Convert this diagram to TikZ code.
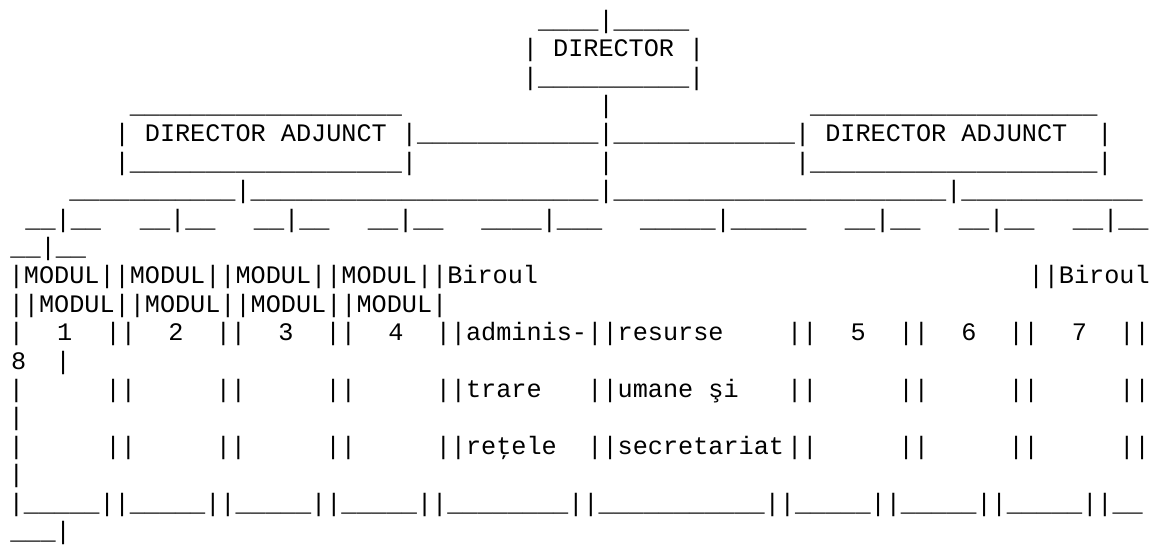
\documentclass[tikz,border=0pt]{standalone}
\usepackage{fontspec}
\setmonofont{Liberation Mono}
\usepackage{tikz}
\newcommand{\usc}[1]{\foreach \k in {1,...,#1}{\_}}
\tikzset{ascii/.style={font=\ttfamily\fontsize{25.2pt}{28.4pt}\selectfont,
    anchor=base west, inner sep=0pt, outer sep=0pt}}
\begin{document}
\begin{tikzpicture}[x=15.12pt, y=-28.4pt]
        \useasboundingbox (-0.582,-0.9965) rectangle (75.54,18.158);
        % Director
        \node[ascii] (dirtop) at (35,0) {\usc{4}|\usc{5}};
        \node[ascii] (dir) at (34,1) {| DIRECTOR |};
        \node[ascii] (dirbot) at (34,2) {|\usc{10}|};
        % Adjuncts
        \node[ascii] (adjLtop) at (8,3) {\usc{18}};
        \node[ascii] (dirstem) at (39,3) {|};
        \node[ascii] (adjRtop) at (53,3) {\usc{19}};
        \node[ascii] (adjL) at (7,4) {| DIRECTOR ADJUNCT |};
        \node[ascii] (link) at (27,4) {\usc{12}|\usc{12}};
        \node[ascii] (adjR) at (52,4) {| DIRECTOR ADJUNCT~~|};
        \node[ascii] (adjLbot) at (7,5) {|\usc{18}|};
        \node[ascii] (midstem) at (39,5) {|};
        \node[ascii] (adjRbot) at (52,5) {|\usc{19}|};
        % Branches
        \node[ascii] (bus) at (4,6) {\usc{11}|\usc{23}|\usc{22}|\usc{12}};
        \node[ascii] (br1) at (1.10,7) {\_\_|\_\_};
        \node[ascii] (br2) at (8.67,7) {\_\_|\_\_};
        \node[ascii] (br3) at (16.21,7) {\_\_|\_\_};
        \node[ascii] (br4) at (23.75,7) {\_\_|\_\_};
        \node[ascii] (br5) at (31.25,7) {\usc{4}|\usc{3}};
        \node[ascii] (br6) at (41.75,7) {\usc{5}|\usc{5}};
        \node[ascii] (br7) at (55.3,7) {\_\_|\_\_};
        \node[ascii] (br8) at (62.84,7) {\_\_|\_\_};
        \node[ascii] (br9) at (70.38,7) {\_\_|\_\_};
        \node[ascii] (br10) at (0.11,8) {\_\_|\_\_};
        % Boxes
        \node[ascii] (mod) at (0,9) {|MODUL||MODUL||MODUL||MODUL||Biroul};
        \node[ascii] (birR) at (67.45,9) {||Biroul};
        \node[ascii] (modw) at (0,10) {||MODUL||MODUL||MODUL||MODUL|};
        \foreach \r in {11,13,15,14,16}
          \node[ascii] (left\r) at (0,\r) {|};
        \foreach \r in {11,13,15}
          \foreach \x [count=\i] in {6.41,13.69,20.96,51.48,58.85,66.12,73.45}
            \node[ascii] (sep\r-\i) at (\x,\r) {||};
        \node[ascii] (n1) at (3.2,11) {1};
        \node[ascii] (n2) at (10.55,11) {2};
        \node[ascii] (n3) at (17.82,11) {3};
        \node[ascii] (n4) at (25.1,11) {4};
        \node[ascii] (adm1) at (28.24,11) {||adminis-};
        \node[ascii] (res1) at (38.27,11) {||resurse};
        \node[ascii] (n5) at (55.67,11) {5};
        \node[ascii] (n6) at (62.99,11) {6};
        \node[ascii] (n7) at (70.3,11) {7};
        \node[ascii] (n8) at (0.15,12) {8};
        \node[ascii] (n8r) at (3.1,12) {|};
        \node[ascii] (adm2) at (28.24,13) {||trare};
        \node[ascii] (res2) at (38.27,13) {||umane şi};
        \node[ascii] (adm3) at (28.24,15) {||reţele};
        \node[ascii] (res3) at (38.27,15) {||secretariat};
        % Bottom
        \node[ascii] (base) at (0,17) {|\usc{5}||\usc{5}||\usc{5}||\usc{5}||\usc{8}||\usc{11}||\usc{5}||\usc{5}||\usc{5}||\usc{2}};
        \node[ascii] (basew) at (0.1,18) {\usc{3}|};
    \end{tikzpicture}
\end{document}
